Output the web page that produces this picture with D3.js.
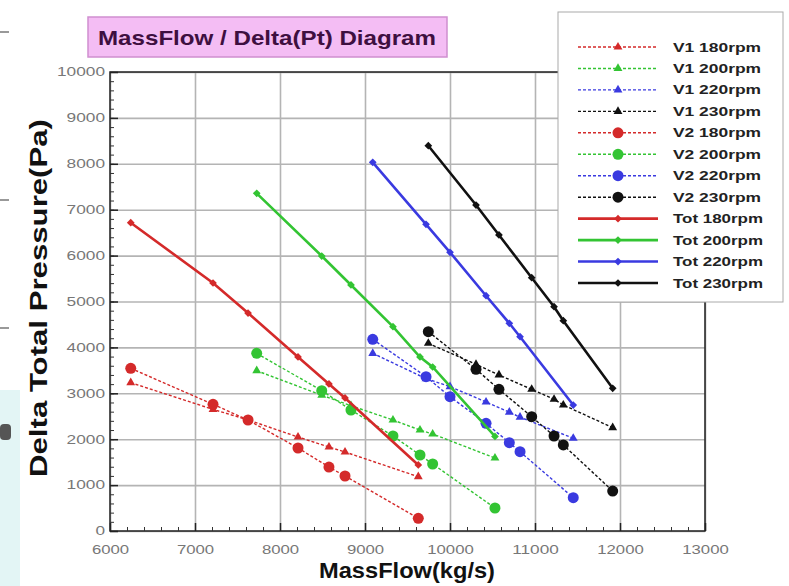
<!DOCTYPE html>
<html>
<head>
<meta charset="utf-8">
<script src="https://cdn.jsdelivr.net/npm/d3@7"></script>
<style>
  html, body { margin: 0; padding: 0; background: #fff; }
  svg { display: block; font-family: Arial, "Liberation Sans", sans-serif; }
</style>
</head>
<body>
<svg id="chart" width="789" height="586"></svg>
<script>
// mass flow (kg/s) for each speed
const flow180 = [6244, 7212, 7624, 8212, 8576, 8765, 9627];
const flow200 = [7726, 8491, 8835, 9329, 9647, 9796, 10529];
const flow220 = [9091, 9718, 10000, 10424, 10698, 10824, 11450];
const flow230 = [9745, 10306, 10576, 10961, 11224, 11333, 11914];

// delta total pressure (Pa)
const v1_180 = [3231, 2650, 2420, 2048, 1830, 1721, 1183];
const v1_200 = [3492, 2960, 2730, 2418, 2200, 2113, 1590];
const v1_220 = [3871, 3320, 3146, 2810, 2590, 2480, 2020];
const v1_230 = [4089, 3631, 3399, 3087, 2869, 2745, 2251];

const v2_180 = [3545, 2760, 2418, 1808, 1394, 1198, 277];
const v2_200 = [3871, 3057, 2636, 2070, 1656, 1460, 501];
const v2_220 = [4176, 3362, 2926, 2346, 1924, 1728, 726];
const v2_230 = [4342, 3523, 3087, 2490, 2070, 1874, 871];

const tot180 = [6717, 5403, 4749, 3791, 3203, 2898, 1438];
const tot200 = [7357, 5991, 5360, 4451, 3791, 3573, 2060];
const tot220 = [8033, 6682, 6072, 5126, 4525, 4233, 2745];
const tot230 = [8394, 7102, 6449, 5519, 4887, 4582, 3109];

const xTicks = [6000, 7000, 8000, 9000, 10000, 11000, 12000, 13000];
const yTicks = [0, 1000, 2000, 3000, 4000, 5000, 6000, 7000, 8000, 9000, 10000];

const colors = { "180rpm": "#d42a2a", "200rpm": "#33c433", "220rpm": "#3a3ae0", "230rpm": "#111111" };

const series = [
  { name: "V1 180rpm", kind: "v1", rpm: "180rpm", x: flow180, y: v1_180 },
  { name: "V1 200rpm", kind: "v1", rpm: "200rpm", x: flow200, y: v1_200 },
  { name: "V1 220rpm", kind: "v1", rpm: "220rpm", x: flow220, y: v1_220 },
  { name: "V1 230rpm", kind: "v1", rpm: "230rpm", x: flow230, y: v1_230 },
  { name: "V2 180rpm", kind: "v2", rpm: "180rpm", x: flow180, y: v2_180 },
  { name: "V2 200rpm", kind: "v2", rpm: "200rpm", x: flow200, y: v2_200 },
  { name: "V2 220rpm", kind: "v2", rpm: "220rpm", x: flow220, y: v2_220 },
  { name: "V2 230rpm", kind: "v2", rpm: "230rpm", x: flow230, y: v2_230 },
  { name: "Tot 180rpm", kind: "tot", rpm: "180rpm", x: flow180, y: tot180 },
  { name: "Tot 200rpm", kind: "tot", rpm: "200rpm", x: flow200, y: tot200 },
  { name: "Tot 220rpm", kind: "tot", rpm: "220rpm", x: flow220, y: tot220 },
  { name: "Tot 230rpm", kind: "tot", rpm: "230rpm", x: flow230, y: tot230 }
];

const svg = d3.select("#chart");
const plot = { left: 110, right: 705, top: 72, bottom: 531 };

const x = d3.scaleLinear().domain([6000, 13000]).range([plot.left, plot.right]);
const y = d3.scaleLinear().domain([0, 10000]).range([plot.bottom, plot.top]);

// bits of the window behind the screenshot, on its left edge
svg.append("rect").attr("x", 0).attr("y", 390).attr("width", 20).attr("height", 196).attr("fill", "#e3f5f5");
[32, 200, 328].forEach((yy) => {
  svg.append("line").attr("x1", 0).attr("x2", 9).attr("y1", yy).attr("y2", yy)
    .attr("stroke", "#999").attr("stroke-width", 2);
});
svg.append("rect").attr("x", 0).attr("y", 424).attr("width", 11).attr("height", 16).attr("rx", 4).attr("fill", "#555");

// grid
svg.append("g")
  .attr("transform", `translate(0,${plot.bottom})`)
  .call(d3.axisBottom(x).tickValues(xTicks).tickSize(-(plot.bottom - plot.top)).tickFormat(""))
  .call((g) => g.select(".domain").remove())
  .selectAll("line").attr("stroke", "#b4b4b4").attr("stroke-width", 1.6);
svg.append("g")
  .attr("transform", `translate(${plot.left},0)`)
  .call(d3.axisLeft(y).tickValues(yTicks).tickSize(-(plot.right - plot.left)).tickFormat(""))
  .call((g) => g.select(".domain").remove())
  .selectAll("line").attr("stroke", "#b4b4b4").attr("stroke-width", 1.6);

// frame
svg.append("rect")
  .attr("x", plot.left).attr("y", plot.top)
  .attr("width", plot.right - plot.left).attr("height", plot.bottom - plot.top)
  .attr("fill", "none").attr("stroke", "#222").attr("stroke-width", 1.5);

// minor + major ticks pointing inside
const minorX = d3.range(6000, 13001, 200);
const minorY = d3.range(0, 10001, 200);
svg.append("g")
  .attr("transform", `translate(0,${plot.bottom})`)
  .call(d3.axisBottom(x).tickValues(minorX).tickSize(-4).tickFormat(""))
  .call((g) => g.select(".domain").remove())
  .selectAll("line").attr("stroke", "#333");
svg.append("g")
  .attr("transform", `translate(${plot.left},0)`)
  .call(d3.axisLeft(y).tickValues(minorY).tickSize(-4).tickFormat(""))
  .call((g) => g.select(".domain").remove())
  .selectAll("line").attr("stroke", "#333");

// major ticks + labels
const xAxis = svg.append("g")
  .attr("transform", `translate(0,${plot.bottom})`)
  .call(d3.axisBottom(x).tickValues(xTicks).tickSize(-8).tickPadding(14).tickFormat(d3.format("d")));
xAxis.select(".domain").remove();
xAxis.selectAll("line").attr("stroke", "#222").attr("stroke-width", 1.5);
xAxis.selectAll("text")
  .attr("fill", "#777").style("font-size", "12px")
  .attr("textLength", (d) => String(d).length * 9.3).attr("lengthAdjust", "spacingAndGlyphs");

const yAxis = svg.append("g")
  .attr("transform", `translate(${plot.left},0)`)
  .call(d3.axisLeft(y).tickValues(yTicks).tickSize(-8).tickPadding(5).tickFormat(d3.format("d")));
yAxis.select(".domain").remove();
yAxis.selectAll("line").attr("stroke", "#222").attr("stroke-width", 1.5);
yAxis.selectAll("text")
  .attr("fill", "#777").style("font-size", "12px")
  .attr("x", -5)
  .attr("textLength", (d) => String(d).length * 9.6).attr("lengthAdjust", "spacingAndGlyphs");

// series
const line = d3.line().x((p) => x(p[0])).y((p) => y(p[1]));
const tri = d3.symbol().type(d3.symbolTriangle).size(34);
const sq = d3.symbol().type(d3.symbolSquare).size(30);

function drawMarker(g, kind, color, cx, cy) {
  if (kind === "v2") {
    g.append("circle").attr("cx", cx).attr("cy", cy).attr("r", 5.5).attr("fill", color);
  } else if (kind === "v1") {
    g.append("path").attr("d", tri).attr("transform", `translate(${cx},${cy})`).attr("fill", color);
  } else {
    g.append("path").attr("d", sq).attr("transform", `translate(${cx},${cy}) rotate(45)`).attr("fill", color);
  }
}

const order = ["v1", "v2", "tot"];
order.forEach((kind) => {
  series.filter((s) => s.kind === kind).forEach((s) => {
    const color = colors[s.rpm];
    const pts = s.x.map((v, i) => [v, s.y[i]]);
    const g = svg.append("g");
    g.append("path")
      .attr("d", line(pts))
      .attr("fill", "none")
      .attr("stroke", color)
      .attr("stroke-width", kind === "tot" ? 2.6 : 1.4)
      .attr("stroke-dasharray", kind === "tot" ? null : "3,2");
    pts.forEach((p) => drawMarker(g, kind, color, x(p[0]), y(p[1])));
  });
});

// legend
const legend = svg.append("g");
legend.append("rect")
  .attr("x", 558).attr("y", 12).attr("width", 225).attr("height", 290)
  .attr("fill", "#fff").attr("stroke", "#aaa").attr("stroke-width", 1);
const legendY = d3.scaleLinear().domain([0, 11]).range([47, 283]);
series.forEach((s, i) => {
  const ly = legendY(i);
  const color = colors[s.rpm];
  legend.append("line")
    .attr("x1", 578).attr("x2", 658).attr("y1", ly).attr("y2", ly)
    .attr("stroke", color)
    .attr("stroke-width", s.kind === "tot" ? 2.6 : 1.4)
    .attr("stroke-dasharray", s.kind === "tot" ? null : "3,2");
  drawMarker(legend, s.kind, color, 618, ly);
  legend.append("text")
    .attr("x", 673).attr("y", ly + 4.5)
    .attr("fill", "#222")
    .style("font-size", "12px").style("font-weight", "bold")
    .attr("textLength", s.kind === "tot" ? 90 : 88).attr("lengthAdjust", "spacingAndGlyphs")
    .text(s.name);
});

// title box
svg.append("rect")
  .attr("x", 88).attr("y", 17).attr("width", 359).attr("height", 40)
  .attr("fill", "#f4bdf4").attr("stroke", "#cf8fcf").attr("stroke-width", 1.5);
svg.append("text")
  .attr("x", 267).attr("y", 45).attr("text-anchor", "middle")
  .attr("fill", "#3e0f40").style("font-size", "21px").style("font-weight", "bold")
  .attr("textLength", 338).attr("lengthAdjust", "spacingAndGlyphs")
  .text("MassFlow / Delta(Pt) Diagram");

// axis titles
svg.append("text")
  .attr("x", 407).attr("y", 578).attr("text-anchor", "middle")
  .attr("fill", "#111").style("font-size", "22px").style("font-weight", "bold")
  .attr("textLength", 176).attr("lengthAdjust", "spacingAndGlyphs")
  .text("MassFlow(kg/s)");
svg.append("text")
  .attr("transform", "translate(47,298) rotate(-90)")
  .attr("text-anchor", "middle")
  .attr("fill", "#111").style("font-size", "23px").style("font-weight", "bold")
  .attr("textLength", 358).attr("lengthAdjust", "spacingAndGlyphs")
  .text("Delta Total Pressure(Pa)");
</script>
</body>
</html>
